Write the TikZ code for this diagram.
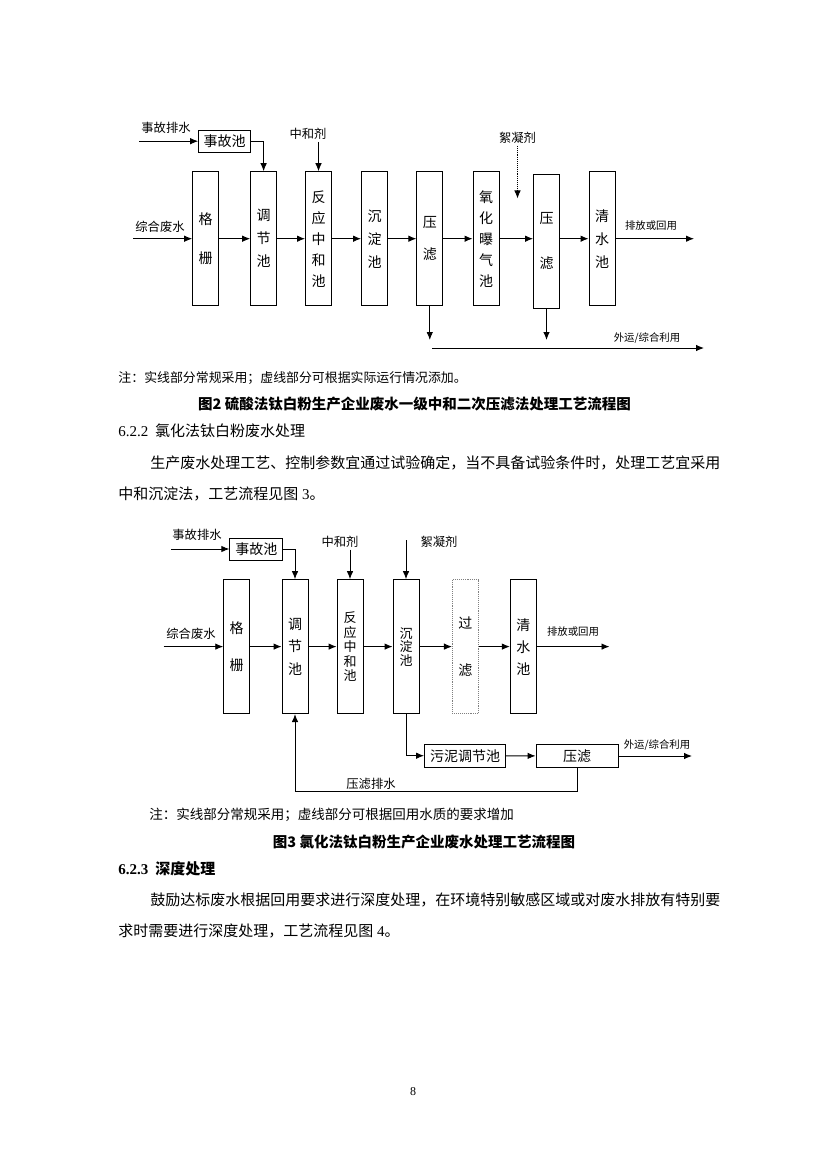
\documentclass[tikz,border=0pt]{standalone}
\usepackage{fontspec}
\setmainfont{Liberation Serif}
\newfontfamily\cjk{Noto Sans CJK SC}
\usetikzlibrary{arrows.meta,positioning,calc}

\begin{document}
\begin{tikzpicture}[x=1pt, y=-1pt, >={Latex[length=8pt,width=6.5pt]}, line width=0.9pt,
  tank/.style={draw, minimum width=26pt, minimum height=134pt, inner sep=0pt, align=center},
  tankfont/.style={font=\cjk\fontsize{14}{#1}\selectfont},
  pool/.style={draw, minimum height=22pt, inner sep=0pt, font=\cjk\fontsize{14}{16}\selectfont},
  lbl/.style={inner sep=0pt, font=\cjk\fontsize{12.3}{14}\selectfont},
  sml/.style={inner sep=0pt, font=\cjk\fontsize{10.4}{12}\selectfont},
  txt/.style={anchor=west, inner sep=0pt, font=\cjk\fontsize{15}{18}\selectfont},
  title/.style={inner sep=0pt, font=\cjk\bfseries\fontsize{14.5}{16}\selectfont}]
  \useasboundingbox (0,0) rectangle (826,1169);

  \node [tank, tankfont=38.5] (gs1) at (205.6,238.7) {格\\栅};
  \node [tank, tankfont=23] (tj1) at (263.6,238.7) {调\\节\\池};
  \node [tank, tankfont=21] (fy1) at (318.5,238.7) {反\\应\\中\\和\\池};
  \node [tank, tankfont=23] (cd1) at (374.5,238.7) {沉\\淀\\池};
  \node [tank, tankfont=31.6] (yl1) at (429.8,238.7) {压\\滤};
  \node [tank, tankfont=21] (yh1) at (486,238.7) {氧\\化\\曝\\气\\池};
  \node [tank, tankfont=45] (yl2) at (546.5,241) {压\\滤};
  \node [tank, tankfont=23] (qs1) at (602,238.7) {清\\水\\池};
  \node [pool, minimum width=52pt] (sg1) at (224.6,141.2) {事故池};

  \node [lbl] (sgps1) at (166,128) {事故排水};
  \node [lbl] (zhj1) at (308,134) {中和剂};
  \node [lbl] (xnj1) at (517.5,138) {絮凝剂};
  \node [lbl] (zhfs1) at (160,227) {综合废水};
  \node [sml] (pf1) at (651,226) {排放或回用};
  \node [sml] (wy1) at (647,338) {外运/综合利用};
  \coordinate (sgin1) at (139,141.2);
  \coordinate (zhin1) at (318.5,142);
  \coordinate (xnin1) at (517.5,146);
  \coordinate (xnout1) at (517.5,198.5);
  \coordinate (fsin1) at (133,238.7);
  \coordinate (pfout1) at (694,238.7);
  \coordinate (yld1) at (429.8,340);
  \coordinate (yld2) at (546.5,340);
  \coordinate (wys1) at (432,348);
  \coordinate (wye1) at (704,348);

  \draw [->] (sgin1) -- (sg1);
  \draw [->] (sg1.east) -| (tj1.north);
  \draw [->] (zhin1) -- (fy1.north);
  \draw [->, densely dotted] (xnin1) -- (xnout1);
  \draw [->] (fsin1) -- (gs1);
  \foreach \a/\b in {gs1/tj1, tj1/fy1, fy1/cd1, cd1/yl1, yl1/yh1, yh1/yl2}
    \draw [->] (\a.east) -- (\a.east -| \b.west);
  \draw [->] (qs1.west -| yl2.east) -- (qs1.west);
  \draw [->] (qs1) -- (pfout1);
  \draw [->] (yl1.south) -- (yld1);
  \draw [->] (yl2.south) -- (yld2);
  \draw [->] (wys1) -- (wye1);

  \node [txt, font=\cjk\fontsize{12.9}{14}\selectfont] (zhu2) at (118,378) {注：实线部分常规采用；虚线部分可根据实际运行情况添加。};
  \node [title] (tu2) at (414.5,404) {图2\ 硫酸法钛白粉生产企业废水一级中和二次压滤法处理工艺流程图};
  \node [txt] (h622) at (118,431) {{\rmfamily 6.2.2}\ \ 氯化法钛白粉废水处理};
  \node [txt] (p1a) at (150,463) {生产废水处理工艺、控制参数宜通过试验确定，当不具备试验条件时，处理工艺宜采用};
  \node [txt] (p1b) at (118,494) {中和沉淀法，工艺流程见图{\rmfamily\ 3}。};

  \node [tank, tankfont=36.7] (gs3) at (236.7,646.6) {格\\栅};
  \node [tank, tankfont=22.3] (tj3) at (295,646.6) {调\\节\\池};
  \node [tank, font=\cjk\fontsize{13}{14.5}\selectfont] (fy3) at (350,646.6) {反\\应\\中\\和\\池};
  \node [tank, font=\cjk\fontsize{13}{13.5}\selectfont] (cd3) at (406,646.6) {沉\\淀\\池};
  \node [tank, draw=gray, densely dotted, tankfont=47] (gl3) at (465.4,646.6) {过\\滤};
  \node [tank, tankfont=22] (qs3) at (523.3,646.6) {清\\水\\池};
  \node [pool, minimum width=53pt] (sg3) at (256.3,549) {事故池};
  \node [pool, minimum width=81pt, minimum height=22.5pt] (wn3) at (465,755.7) {污泥调节池};
  \node [pool, minimum width=82pt, minimum height=23.5pt] (yl3) at (577,756) {压滤};

  \node [lbl] (sgps3) at (197,535) {事故排水};
  \node [lbl] (zhj3) at (340,542) {中和剂};
  \node [lbl] (xnj3) at (439,542) {絮凝剂};
  \node [lbl] (zhfs3) at (191,634) {综合废水};
  \node [sml] (pf3) at (573,632) {排放或回用};
  \node [sml] (wy3) at (657,745.5) {外运/综合利用};
  \node [lbl] (ylps3) at (371,784) {压滤排水};
  \coordinate (sgin3) at (171,549);
  \coordinate (zhin3) at (350,549.5);
  \coordinate (xnin3) at (406,540);
  \coordinate (fsin3) at (163.6,646.6);
  \coordinate (pfout3) at (609.5,646.6);
  \coordinate (wye3) at (692,756);
  \coordinate (hs3) at (295,791);

  \draw [->] (sgin3) -- (sg3);
  \draw [->] (sg3.east) -| (tj3.north);
  \draw [->] (zhin3) -- (fy3.north);
  \draw [->] (xnin3) -- (cd3.north);
  \draw [->] (fsin3) -- (gs3);
  \foreach \a/\b in {gs3/tj3, tj3/fy3, fy3/cd3, cd3/gl3, gl3/qs3}
    \draw [->] (\a) -- (\b);
  \draw [->] (qs3) -- (pfout3);
  \draw [->] (cd3.south) |- (wn3.west);
  \draw [->] (wn3) -- (yl3);
  \draw [->] (yl3) -- (wye3);
  \draw [->] (yl3.south) |- (hs3) -- (tj3.south);

  \node [txt, font=\cjk\fontsize{13.5}{15}\selectfont] (zhu3) at (149,815) {注：实线部分常规采用；虚线部分可根据回用水质的要求增加};
  \node [title] (tu3) at (424,842) {图3\ 氯化法钛白粉生产企业废水处理工艺流程图};
  \node [txt, font=\cjk\bfseries\fontsize{15}{18}\selectfont] (h623) at (118,869) {{\rmfamily 6.2.3}\ \ 深度处理};
  \node [txt] (p2a) at (150,900) {鼓励达标废水根据回用要求进行深度处理，在环境特别敏感区域或对废水排放有特别要};
  \node [txt] (p2b) at (118,931) {求时需要进行深度处理，工艺流程见图{\rmfamily\ 4}。};
  \node [inner sep=0pt, font=\fontsize{12}{14}\selectfont] (pg) at (413,1092) {8};
\end{tikzpicture}
\end{document}
